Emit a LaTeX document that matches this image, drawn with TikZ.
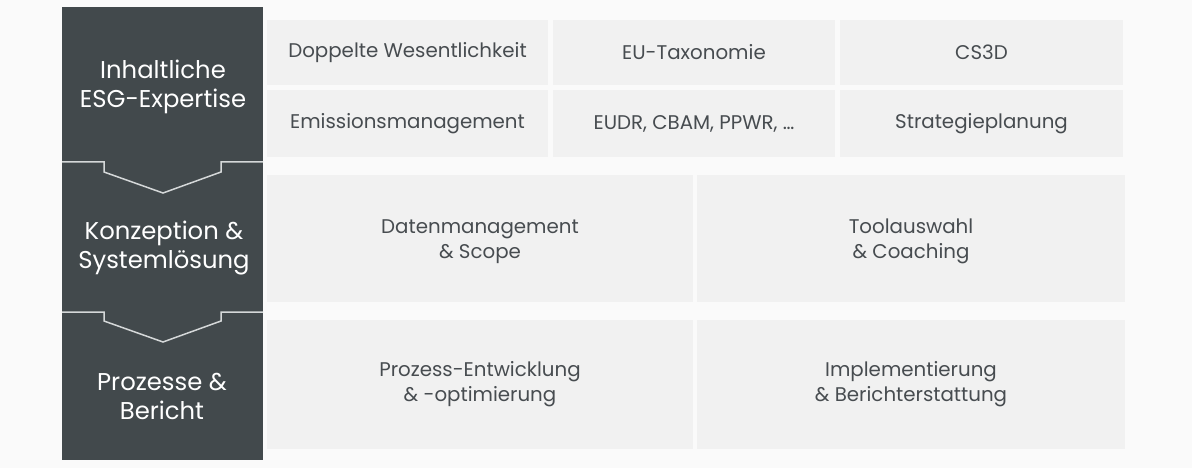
\documentclass[tikz,border=0pt]{standalone}
\usepackage{fontspec}
\setmainfont{Poppins}
\usetikzlibrary{positioning}
\definecolor{slate}{HTML}{42494C}
\definecolor{cell}{HTML}{F1F1F1}
\definecolor{page}{HTML}{FAFAFA}
\definecolor{celltext}{HTML}{474C50}
\definecolor{notch}{HTML}{D5D8D9}
\newcommand{\lowerfirst}{\rule{0pt}{21pt}}
\begin{document}
\begin{tikzpicture}[x=1pt,y=-1pt,
	cellbox/.style={rectangle, fill=cell, text=celltext, inner sep=0pt, outer sep=0pt,
		font=\fontsize{19.8}{25}\selectfont, align=center},
	stage/.style={text=white, font=\fontsize{24.3}{29}\selectfont, align=center}]
	\fill[page] (0,0) rectangle (1192,468);
	\useasboundingbox (0,0) rectangle (1192,468);
	% left column with the two notches
	\fill[slate] (62,7) rectangle (263,460);
	\draw[notch, line width=1.5pt] (62,162) -- (104,162) -- (104,172) -- (163,193) -- (221,172) -- (221,162) -- (263,162);
	\draw[notch, line width=1.5pt] (62,312) -- (104,312) -- (104,321) -- (163,342) -- (221,321) -- (221,312) -- (263,312);
	\node[stage] (s1) at (163,87) {Inhaltliche\\ESG-Expertise};
	\node[stage] (s2) at (164,248) {Konzeption \&\\Systemlösung};
	\node[stage] (s3) at (162,396) {Prozesse \&\\Bericht};
	% first block
	\node[cellbox, minimum width=281pt, minimum height=65pt] (a11) at (407.5,52.5) {Doppelte Wesentlichkeit};
	\node[cellbox, minimum width=282pt, minimum height=65pt] (a12) at (694,52.5) {EU-Taxonomie};
	\node[cellbox, minimum width=283pt, minimum height=65pt] (a13) at (981.5,52.5) {CS3D};
	\node[cellbox, minimum width=281pt, minimum height=67pt] (a21) at (407.5,123.5) {Emissionsmanagement};
	\node[cellbox, minimum width=282pt, minimum height=67pt] (a22) at (694,123.5) {EUDR, CBAM, PPWR, \dots};
	\node[cellbox, minimum width=283pt, minimum height=67pt] (a23) at (981.5,123.5) {Strategieplanung};
	% second block
	\node[cellbox, minimum width=426pt, minimum height=127pt] (b1) at (480,238.5) {\lowerfirst Datenmanagement\\\& Scope};
	\node[cellbox, minimum width=428pt, minimum height=127pt] (b2) at (911,238.5) {\lowerfirst Toolauswahl\\\& Coaching};
	% third block
	\node[cellbox, minimum width=426pt, minimum height=129pt] (c1) at (480,384.5) {Prozess-Entwicklung\\\& -optimierung};
	\node[cellbox, minimum width=428pt, minimum height=129pt] (c2) at (911,384.5) {Implementierung\\\& Berichterstattung};
\end{tikzpicture}
\end{document}
